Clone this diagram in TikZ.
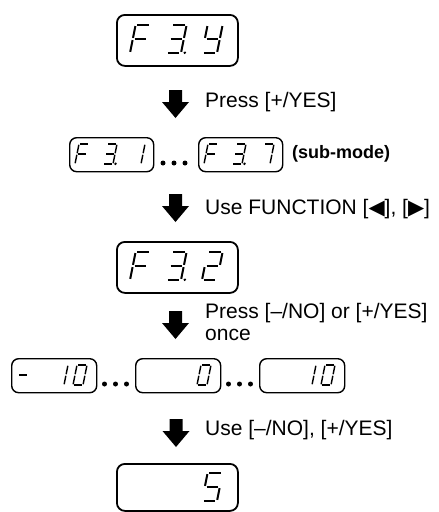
\documentclass[tikz,border=0pt]{standalone}
\usepackage{fontspec}
\setmainfont{Liberation Sans}
\newfontfamily\symf{DejaVu Sans}
\newcommand\sga{\draw[seg] (0.12,2)--(0.88,2);}
\newcommand\sgb{\draw[seg] (1,1.92)--(1,1.08);}
\newcommand\sgc{\draw[seg] (1,0.92)--(1,0.08);}
\newcommand\sgd{\draw[seg] (0.12,0)--(0.88,0);}
\newcommand\sge{\draw[seg] (0,0.92)--(0,0.08);}
\newcommand\sgf{\draw[seg] (0,1.92)--(0,1.08);}
\newcommand\sgg{\draw[seg] (0.12,1)--(0.88,1);}
\newcommand\sgp{\fill (1.25,0.02) circle[radius=1.4pt];}
\newcommand\sdig[3]{\begin{scope}[shift={#1},#2]\foreach \q in {#3}{\csname sg\q\endcsname}\end{scope}}
\newcommand\blkarrow[1]{\fill[shift={#1}] (-6.5,0) -- (6.5,0) -- (6.5,12) -- (13.5,12) -- (0,28) -- (-13.5,12) -- (-6.5,12) -- cycle;}
\newcommand\tri[1]{{\symf\fontsize{21}{21}\selectfont #1}}
\begin{document}
\begin{tikzpicture}[x=1pt,y=-1pt,
  disp/.style={draw, rounded corners=8pt, line width=1.8pt, inner sep=0pt, anchor=north west},
  bigbox/.style={disp, minimum width=121pt, minimum height=51pt},
  smallbox/.style={disp, minimum width=84pt, minimum height=34pt, rounded corners=7pt, line width=1.4pt},
  seg/.style={line width=2pt},
  bigd/.style={x=15pt,y=14pt,xslant=0.2},
  smalld/.style={x=10pt,y=10pt,xslant=0.2,seg/.style={line width=1.4pt}},
  txt/.style={anchor=base west, inner sep=0pt, font=\fontsize{21}{23}\selectfont}]
\useasboundingbox (0,0) rectangle (439,512);

% display 1: F 3.y
\node[bigbox] (b1) at (116,14) {};
\sdig{(130,53)}{bigd}{a,f,e,g}
\sdig{(166,53)}{bigd}{a,b,g,c,d,p}
\sdig{(202,53)}{bigd}{f,b,g,c,d}

\blkarrow{(175.5,90)}
\node[txt] (t1) at (205,107) {Press [+/YES]};

% row 2
\node[smallbox] (s1) at (69,137) {};
\sdig{(75,164)}{smalld}{a,f,e,g}
\sdig{(103,164)}{smalld}{a,b,g,c,d,p}
\sdig{(131,164)}{smalld}{b,c}
\foreach \xx in {163,174,185} \fill (\xx,163) circle[radius=2.5pt];
\node[smallbox] (s7) at (198,137) {};
\sdig{(204,164)}{smalld}{a,f,e,g}
\sdig{(232,164)}{smalld}{a,b,g,c,d,p}
\sdig{(260,164)}{smalld}{a,b,c}
\node[anchor=west, inner sep=0pt, font=\fontsize{18}{20}\selectfont\bfseries] (sub) at (292,154) {(sub-mode)};

\blkarrow{(175.5,194)}
\node[txt] (t2) at (205,214) {Use FUNCTION [\tri{◀}], [\tri{▶}]};

% display 3: F 3.2
\node[bigbox] (b3) at (116,241) {};
\sdig{(130,280)}{bigd}{a,f,e,g}
\sdig{(166,280)}{bigd}{a,b,g,c,d,p}
\sdig{(202,280)}{bigd}{a,b,g,e,d}

\blkarrow{(175.5,311)}
\node[txt] (t3) at (205,318) {Press [–/NO] or [+/YES]};
\node[txt] (t3b) at (205,340) {once};

% row 4
\node[smallbox, minimum width=85pt] (m10) at (11,358) {};
\sdig{(16,385)}{smalld}{g}
\sdig{(54,385)}{smalld}{b,c}
\sdig{(73,385)}{smalld}{a,b,c,d,e,f}
\foreach \xx in {104.5,115.5,126.5} \fill (\xx,384) circle[radius=2.5pt];
\node[smallbox, minimum width=85pt] (z0) at (135,358) {};
\sdig{(197,385)}{smalld}{a,b,c,d,e,f}
\foreach \xx in {228.5,239.5,250.5} \fill (\xx,384) circle[radius=2.5pt];
\node[smallbox, minimum width=85pt] (p10) at (259,358) {};
\sdig{(302,385)}{smalld}{b,c}
\sdig{(321,385)}{smalld}{a,b,c,d,e,f}

\blkarrow{(176,419)}
\node[txt] (t4) at (205,435) {Use [–/NO], [+/YES]};

% display 5
\node[bigbox, minimum height=47pt] (b5) at (116,463) {};
\sdig{(202,501)}{bigd}{a,f,g,c,d}
\end{tikzpicture}
\end{document}
